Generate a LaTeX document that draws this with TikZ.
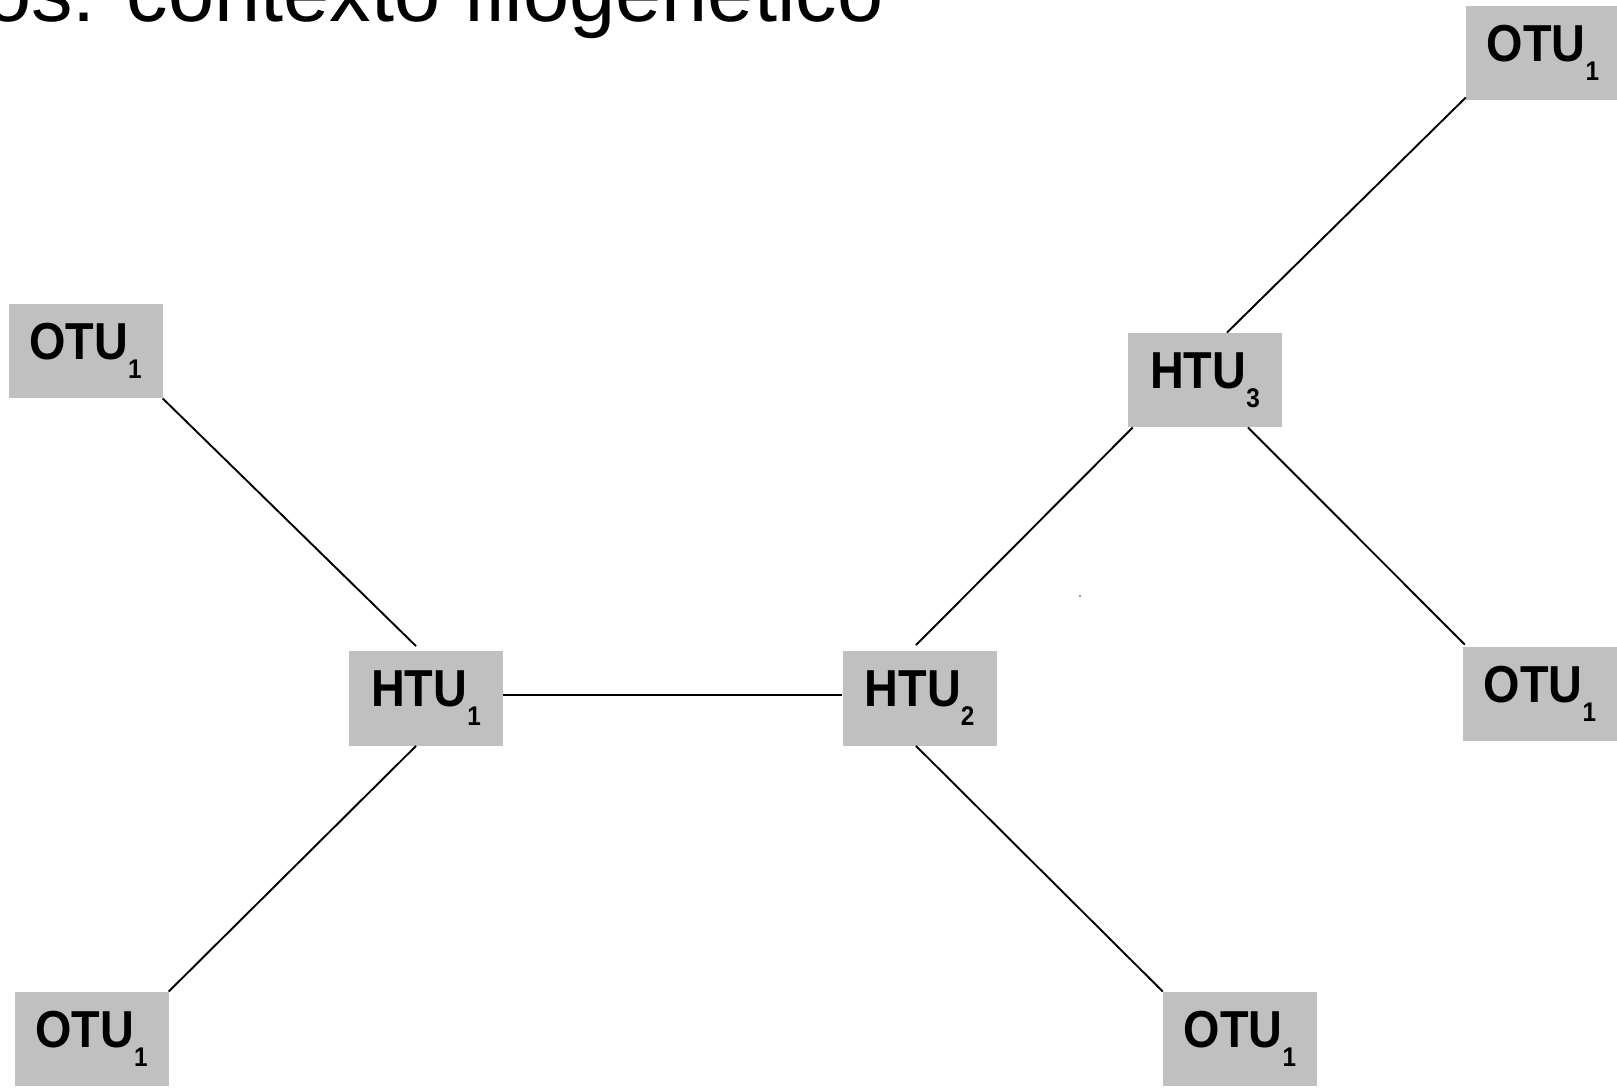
\documentclass[tikz,border=0pt]{standalone}
\usepackage{fontspec}
\setmainfont{Liberation Sans}
\newfontfamily\boxfont[FakeStretch=0.9]{Liberation Sans}
\definecolor{boxgray}{RGB}{192,192,192}
\newcommand{\unitlabel}[2]{{\boxfont\bfseries\fontsize{52}{52}\selectfont #1}\raisebox{-19pt}{\boxfont\bfseries\fontsize{27}{27}\selectfont #2}}

\begin{document}
\begin{tikzpicture}[x=1pt,y=-1pt,
	unit/.style={rectangle, fill=boxgray, minimum width=154pt, minimum height=94.5pt, inner sep=0pt},
	branch/.style={line width=1.9pt, black}]
			\useasboundingbox (0,0) rectangle (1617,1087);
			\clip (0,0) rectangle (1617,1087);
			\fill[white] (0,0) rectangle (1617,1087);
			\node[anchor=base west, inner sep=0pt, font=\fontsize{83}{83}\selectfont](title) at (-15,21){os: contexto filogenético};
			\node[unit](otuL) at (85.5,351){\unitlabel{OTU}{1}};
			\node[unit](otuBL) at (91.5,1039){\unitlabel{OTU}{1}};
			\node[unit](htuA) at (426,698.5){\unitlabel{HTU}{1}};
			\node[unit](htuB) at (919.5,698.5){\unitlabel{HTU}{2}};
			\node[unit](otuBR) at (1240,1039){\unitlabel{OTU}{1}};
			\node[unit](htuC) at (1205,380){\unitlabel{HTU}{3}};
			\node[unit](otuTR) at (1543,53){\unitlabel{OTU}{1}};
			\node[unit](otuR) at (1540,694){\unitlabel{OTU}{1}};
			\draw[branch] (otuL.south east) -- ([xshift=-10pt,yshift=5pt]htuA.north);
			\draw[branch] ([xshift=-10pt]htuA.south) -- (otuBL.north east);
			\draw[branch] ([yshift=3.5pt]htuA.east) -- ([yshift=3.5pt]htuB.west);
			\draw[branch] ([xshift=-3.5pt,yshift=6pt]htuB.north) -- ([xshift=5pt]htuC.south west);
			\draw[branch] ([xshift=-3.5pt]htuB.south) -- (otuBR.north west);
			\draw[branch] ([xshift=22pt]htuC.north) -- ([yshift=3pt]otuTR.south west);
			\draw[branch] ([xshift=43pt]htuC.south) -- ([xshift=2pt,yshift=2pt]otuR.north west);
			\fill[gray] (1080,596) circle (1.2pt);
\end{tikzpicture}
\end{document}
